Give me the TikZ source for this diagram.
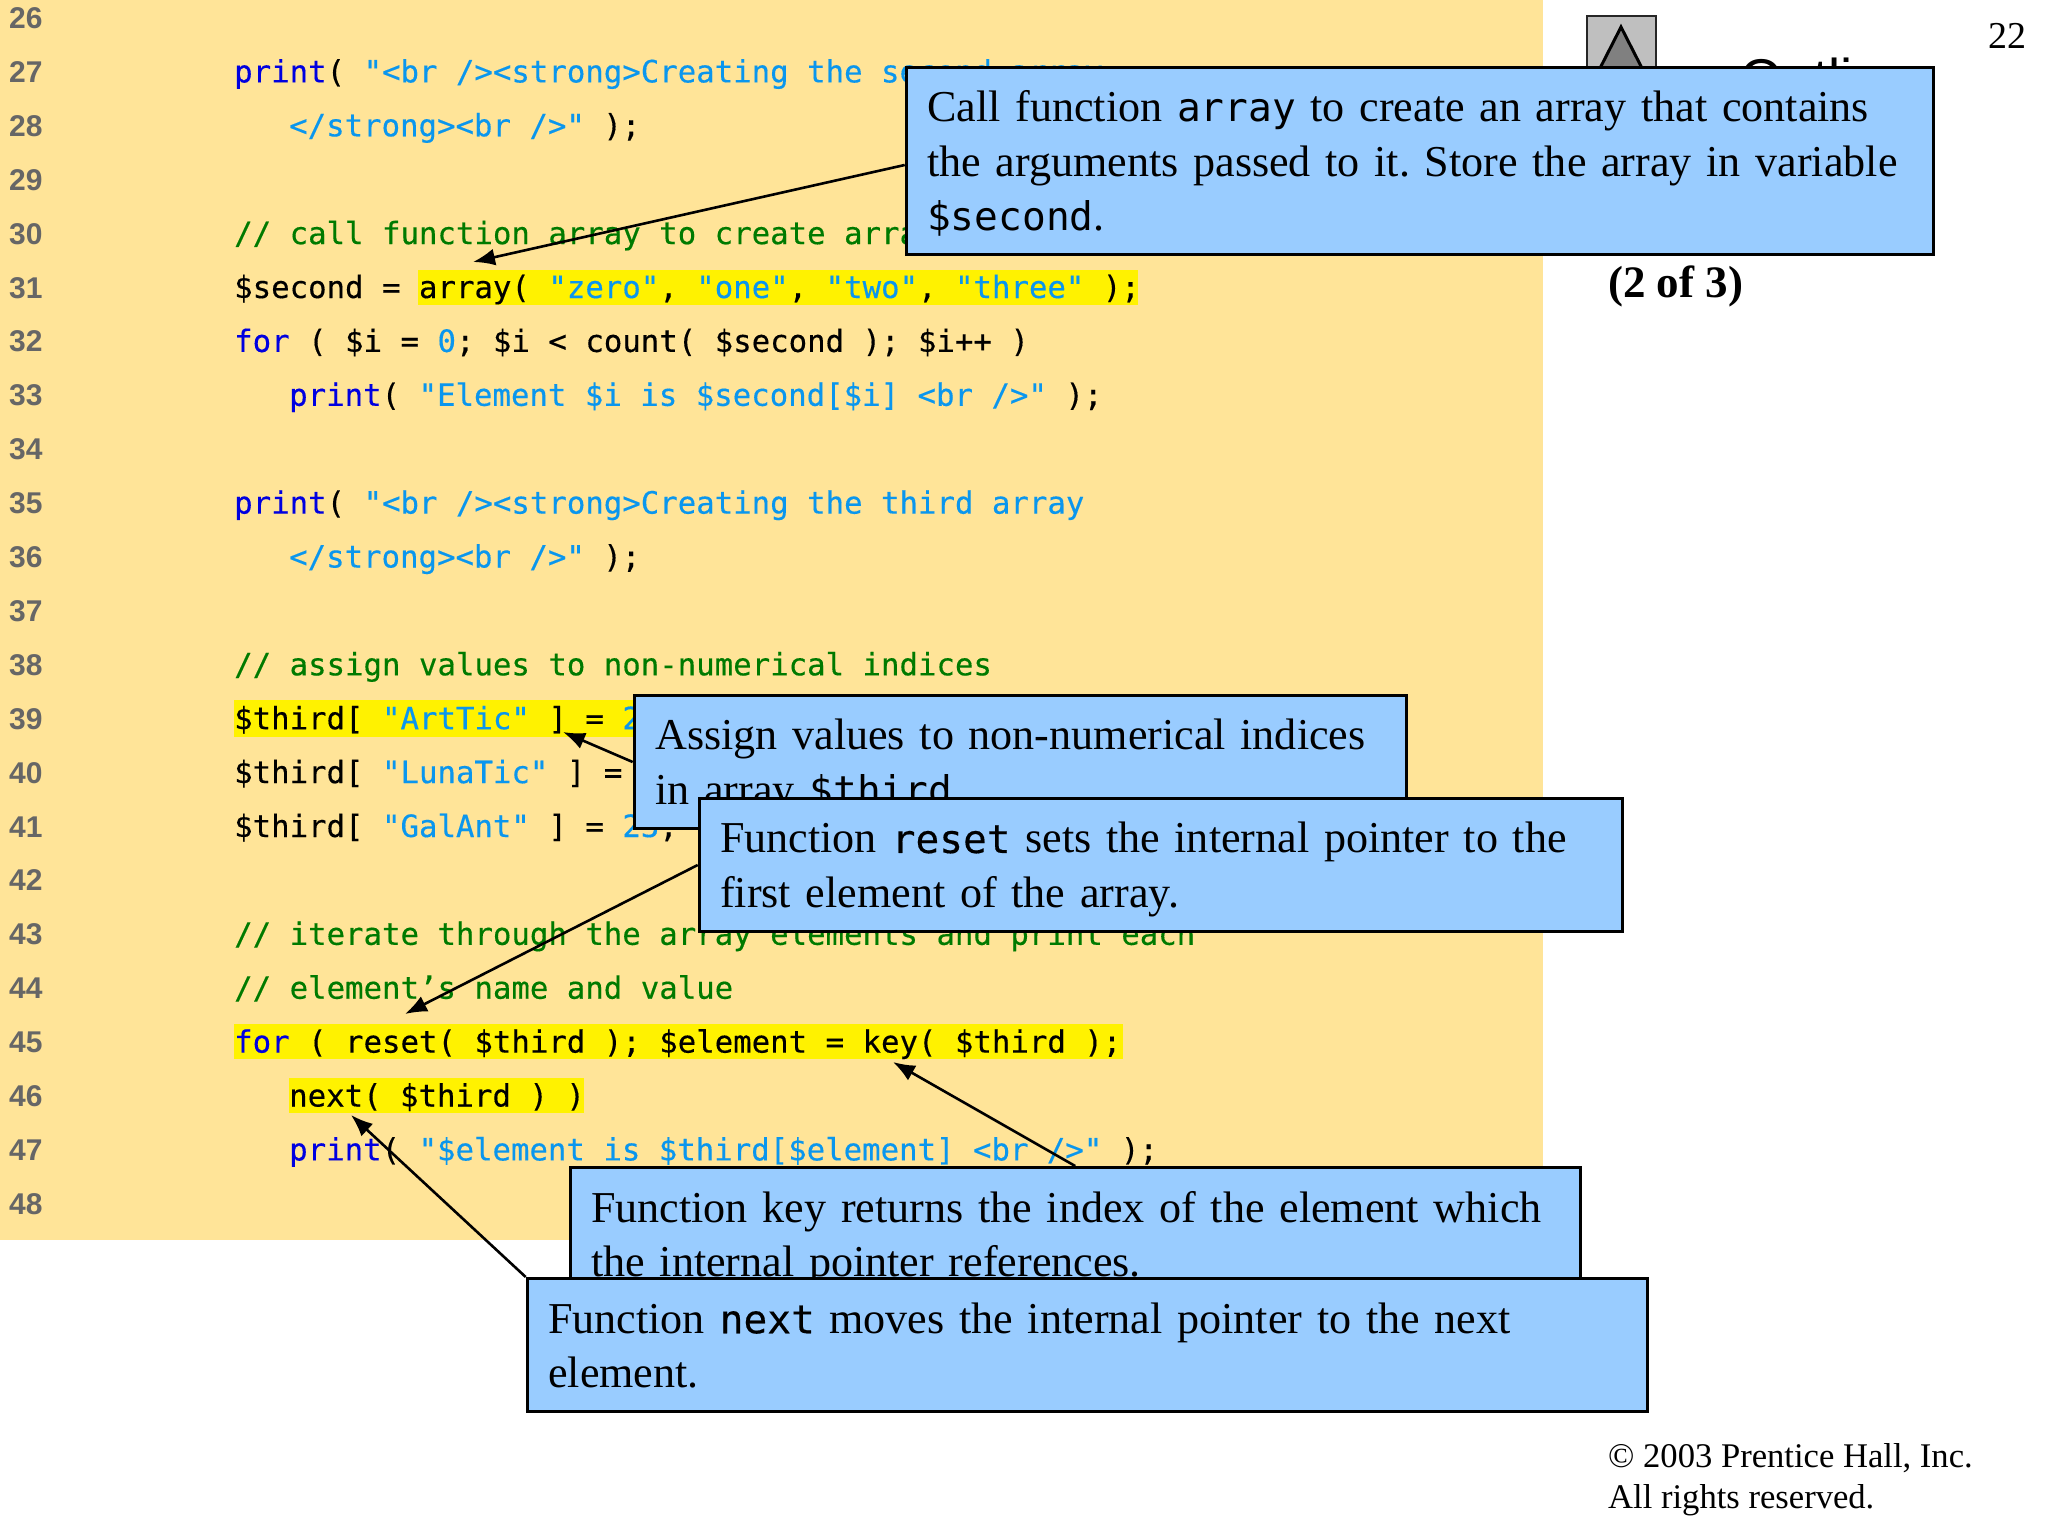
\documentclass[tikz,border=0pt]{standalone}
\usepackage{fontspec}
\setmainfont{Liberation Serif}
\newfontfamily\codefont[FakeBold=0.35]{DejaVu Sans Mono}
\newfontfamily\notefont{DejaVu Sans Mono}
\newfontfamily\numfont{Liberation Sans}
\usetikzlibrary{arrows.meta}
\definecolor{panelbg}{HTML}{FFE498}
\definecolor{calloutbg}{HTML}{99CCFF}
\definecolor{kwblue}{HTML}{0000E0}
\definecolor{strblue}{HTML}{0A96EE}
\definecolor{cmgreen}{HTML}{007A00}
\newcommand{\kw}[1]{\textcolor{kwblue}{#1}}
\newcommand{\str}[1]{\textcolor{strblue}{#1}}
\newcommand{\cm}[1]{\textcolor{cmgreen}{#1}}
\newcommand{\cc}[1]{{\notefont\fontsize{39.5}{54}\selectfont #1}}
\newcommand{\ccb}[1]{{\codefont\fontsize{39.5}{54}\selectfont #1}}
\tikzset{
  codeline/.style={anchor=base west, inner sep=0pt, font=\codefont\fontsize{30.7}{54}\selectfont},
  linenum/.style={anchor=base west, inner sep=0pt, text=black!60, font=\numfont\bfseries\fontsize{30}{54}\selectfont},
  hilite/.style={fill=yellow},
  callout/.style={anchor=north west, draw=black, line width=3pt, fill=calloutbg, inner xsep=21pt, inner ysep=0pt,
    align=left, font=\fontsize{44.1}{54.5}\selectfont\frenchspacing,
    execute at begin node=\rule[-9pt]{0pt}{49pt},
    execute at end node=\rule[-9pt]{0pt}{49pt}},
  pointer/.style={-{Latex[length=22pt,width=17pt]}, line width=2.6pt},
  plain/.style={anchor=base west, inner sep=0pt}
}
\begin{document}
\begin{tikzpicture}[x=1pt,y=-1pt]
\useasboundingbox (0,0) rectangle (2048,1536);

\fill[panelbg] (0,0) rectangle (1543,1240);
\fill[hilite] (418,270) rectangle (1138,305);
\fill[hilite] (234,700) rectangle (675,737);
\fill[hilite] (234,1024) rectangle (1123,1059);
\fill[hilite] (289,1078) rectangle (584,1113);

\foreach \n in {26,...,48} {
  \pgfmathsetmacro\liney{28.5+53.9*(\n-26)}
  \node[linenum] (num\n) at (9,\liney) {\n};
}

\node[codeline] (code27) at (234,82.4) {\kw{print}( \str{"<br /><strong>Creating the second array}};
\node[codeline] (code28) at (289,136.3) {\str{</strong><br />"} );};
\node[codeline] (code30) at (234,244.1) {\cm{// call function array to create array \$second}};
\node[codeline] (code31) at (234,298) {\$second = array( \str{"zero"}, \str{"one"}, \str{"two"}, \str{"three"} );};
\node[codeline] (code32) at (234,351.9) {\kw{for} ( \$i = \str{0}; \$i < count( \$second ); \$i++ )};
\node[codeline] (code33) at (289,405.8) {\kw{print}( \str{"Element \$i is \$second[\$i] <br />"} );};
\node[codeline] (code35) at (234,513.6) {\kw{print}( \str{"<br /><strong>Creating the third array}};
\node[codeline] (code36) at (289,567.5) {\str{</strong><br />"} );};
\node[codeline] (code38) at (234,675.3) {\cm{// assign values to non-numerical indices}};
\node[codeline] (code39) at (234,729.2) {\$third[ \str{"ArtTic"} ] = \str{21};};
\node[codeline] (code40) at (234,783.1) {\$third[ \str{"LunaTic"} ] = \str{9};};
\node[codeline] (code41) at (234,837) {\$third[ \str{"GalAnt"} ] = \str{23};};
\node[codeline] (code43) at (234,944.8) {\cm{// iterate through the array elements and print each}};
\node[codeline] (code44) at (234,998.7) {\cm{// element’s name and value}};
\node[codeline] (code45) at (234,1052.6) {\kw{for} ( reset( \$third ); \$element = key( \$third );};
\node[codeline] (code46) at (289,1106.5) {next( \$third ) )};
\node[codeline] (code47) at (289,1160.4) {\kw{print}( \str{"\$element is \$third[\$element] <br />"} );};

% navigation corner
\filldraw[fill=black!25, draw=black!85, line width=2.5pt] (1587,16) rectangle (1656,85);
\filldraw[fill=black!50, draw=black, line width=3pt] (1621,27) -- (1594,80) -- (1648,80) -- cycle;
\node[plain, font=\numfont\fontsize{54.6}{60}\selectfont] (outline) at (1740,98) {Outline};
\node[plain, font=\fontsize{38}{44}\selectfont] (page) at (1988,49) {22};
\node[plain, font=\bfseries\fontsize{45}{54}\selectfont] (part) at (1608,297) {(2 of 3)};
\node[plain, font=\fontsize{34.6}{41.5}\selectfont, align=left, anchor=north west] (rights) at (1608,1443) {\textcopyright{} 2003 Prentice Hall, Inc.\\All rights reserved.};

\coordinate (tipsecond) at (473,262);
\coordinate (tipthird) at (563,732);
\coordinate (tipreset) at (405,1014);
\coordinate (tipkey) at (893,1062);
\coordinate (tipnext) at (351,1115);

\node[callout, minimum width=1027pt, minimum height=187pt, text width=985pt] (boxarray) at (904.7,66)
  {Call function \cc{array} to create an array that contains\\the arguments passed to it. Store the array in variable\\\cc{\$second}.};
\draw[pointer] ([yshift=-4pt]boxarray.west) -- (tipsecond);

\node[callout, minimum width=772pt, minimum height=133pt, text width=730pt] (boxindex) at (632.7,694)
  {Assign values to non-numerical indices\\in array \cc{\$third}};
\draw[pointer] (boxindex.west) -- (tipthird);

\node[callout, minimum width=923pt, minimum height=133pt, text width=881pt] (boxreset) at (697.7,797)
  {Function \ccb{reset} sets the internal pointer to the\\first element of the array.};
\draw[pointer] (boxreset.west) -- (tipreset);

\node[callout, minimum width=1010pt, minimum height=133pt, text width=968pt] (boxkey) at (568.7,1166)
  {Function key returns the index of the element which\\the internal pointer references.};
\draw[pointer] (boxkey.north) -- (tipkey);

\node[callout, minimum width=1120pt, minimum height=133pt, text width=1078pt] (boxnext) at (525.7,1277)
  {Function \ccb{next} moves the internal pointer to the next\\element.};
\draw[pointer] (boxnext.north west) -- (tipnext);
\end{tikzpicture}
\end{document}
